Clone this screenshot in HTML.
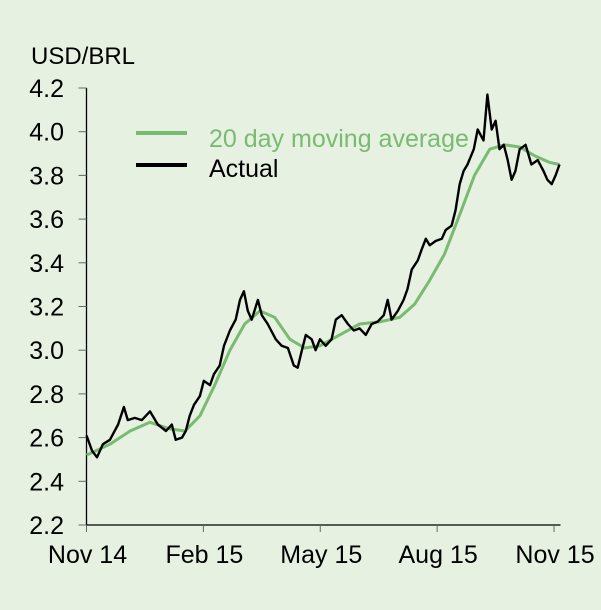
<!DOCTYPE html>
<html><head><meta charset="utf-8"><style>
html,body{margin:0;padding:0;background:#e6f1e2;}
svg{display:block;font-family:"Liberation Sans",Arial,sans-serif;}
</style></head><body>
<svg id="chart" width="601" height="610">
<rect width="601" height="610" fill="#e6f1e2"/>
<text x="31" y="64" font-size="24" fill="#000">USD/BRL</text>
<g id="axes"></g>
<g id="series"></g>
<g>
<line x1="136" y1="133" x2="187" y2="133" stroke="#79bb70" stroke-width="4"/>
<text x="209" y="147" font-size="25" fill="#79bb70">20 day moving average</text>
<line x1="136" y1="165" x2="187" y2="165" stroke="#000" stroke-width="4"/>
<text x="209" y="177" font-size="25" fill="#000">Actual</text>
</g>
</svg>
<script>
const yTicks=[2.2,2.4,2.6,2.8,3.0,3.2,3.4,3.6,3.8,4.0,4.2];
const xTickMonths=[0,3,6,9,12];
const xTickLabels=["Nov 14","Feb 15","May 15","Aug 15","Nov 15"];
const actualT=[0,.14,.27,.42,.60,.81,.96,1.06,1.24,1.42,1.63,1.83,2.04,2.19,2.29,2.45,2.55,2.65,2.76,2.91,3.01,3.17,3.27,3.42,3.53,3.68,3.83,3.94,4.04,4.14,4.24,4.40,4.50,4.65,4.86,5.01,5.17,5.32,5.42,5.53,5.63,5.78,5.88,5.99,6.14,6.29,6.40,6.55,6.71,6.86,7.01,7.17,7.32,7.47,7.63,7.73,7.83,7.99,8.14,8.24,8.35,8.50,8.60,8.71,8.81,8.96,9.12,9.22,9.37,9.47,9.58,9.68,9.78,9.94,10.04,10.19,10.29,10.40,10.50,10.60,10.71,10.81,10.91,11.01,11.12,11.27,11.42,11.58,11.73,11.83,11.94,12.04,12.14];
const actualV=[2.61,2.54,2.51,2.57,2.59,2.66,2.74,2.68,2.69,2.68,2.72,2.66,2.63,2.66,2.59,2.60,2.63,2.70,2.75,2.79,2.86,2.84,2.89,2.93,3.02,3.09,3.14,3.23,3.27,3.18,3.14,3.23,3.16,3.12,3.05,3.02,3.01,2.93,2.92,3.00,3.07,3.05,3.00,3.05,3.02,3.05,3.14,3.16,3.12,3.09,3.10,3.07,3.12,3.13,3.16,3.23,3.14,3.18,3.23,3.28,3.37,3.41,3.46,3.51,3.48,3.50,3.51,3.55,3.57,3.64,3.76,3.82,3.85,3.92,4.01,3.96,4.17,4.01,4.05,3.92,3.94,3.87,3.78,3.82,3.92,3.94,3.85,3.87,3.82,3.78,3.76,3.80,3.85];
const maT=[0,.60,1.12,1.63,2.14,2.53,2.91,3.29,3.68,4.06,4.45,4.83,5.22,5.60,5.99,6.50,7.01,7.53,8.04,8.42,8.81,9.19,9.58,9.96,10.35,10.73,11.12,11.50,11.88,12.14];
const maV=[2.52,2.57,2.63,2.67,2.64,2.63,2.70,2.84,3.00,3.12,3.18,3.15,3.05,3.01,3.02,3.07,3.12,3.13,3.15,3.21,3.32,3.44,3.62,3.80,3.92,3.94,3.93,3.89,3.86,3.85];

const NS="http://www.w3.org/2000/svg";
const X0=86.5,XPM=38.96,Y0=525,YPU=218.5;
function xs(m){return X0+m*XPM;}
function ys(v){return Y0-(v-2.2)*YPU;}
function mk(tag,attrs,parent){const e=document.createElementNS(NS,tag);for(const k in attrs)e.setAttribute(k,attrs[k]);parent.appendChild(e);return e;}
const axes=document.getElementById('axes'),series=document.getElementById('series');
let e=mk('line',{x1:X0,y1:ys(4.2),x2:X0,y2:Y0,stroke:'#000','stroke-width':1.3},axes);


e=mk('line',{x1:X0,y1:Y0,x2:560.5,y2:Y0,stroke:'#000','stroke-width':1.3},axes);


yTicks.forEach(v=>{
 const t=mk('line',{x1:X0-8,y1:ys(v),x2:X0,y2:ys(v),stroke:'#666','stroke-width':1},axes);
 
 
 const l=mk('text',{x:64,y:ys(v)+9,'font-size':25,'text-anchor':'end',fill:'#000'},axes);
 l.textContent=v.toFixed(1);
 
 
});
xTickMonths.forEach((m,i)=>{
 const t=mk('line',{x1:xs(m),y1:Y0,x2:xs(m),y2:Y0+7,stroke:'#666','stroke-width':1},axes);
 
 
 const l=mk('text',{x:xs(m)+1,y:Y0+38,'font-size':25,'text-anchor':'middle',fill:'#000'},axes);
 l.textContent=xTickLabels[i];
 
 
});
function path(T,V){return T.map((t,i)=>(i?'L':'M')+xs(t).toFixed(1)+','+ys(V[i]).toFixed(1)).join('');}
e=mk('path',{d:path(maT,maV),fill:'none',stroke:'#79bb70','stroke-width':3,'stroke-linejoin':'round'},series);


e=mk('path',{d:path(actualT,actualV),fill:'none',stroke:'#000','stroke-width':2.4,'stroke-linejoin':'round'},series);


</script>
</body></html>
